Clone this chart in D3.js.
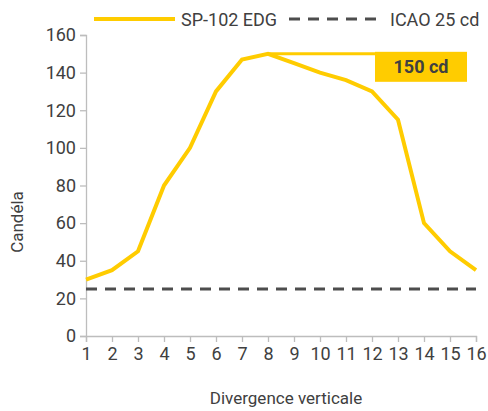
<!DOCTYPE html>
<html>
<head>
<meta charset="utf-8">
<script src="https://cdn.jsdelivr.net/npm/d3@7"></script>
<style>
  body { margin: 0; background: #fff; }
  svg { display: block; font-family: Roboto, sans-serif; }
</style>
</head>
<body>
<div id="chart"></div>
<script>
const divergence = [1, 2, 3, 4, 5, 6, 7, 8, 9, 10, 11, 12, 13, 14, 15, 16];
const candela = [30, 35, 45, 80, 100, 130, 147, 150, 145, 140, 136, 130, 115, 60, 45, 35];
const icaoLevel = 25;
const yTicks = [0, 20, 40, 60, 80, 100, 120, 140, 160];
const seriesNames = ['SP-102 EDG', 'ICAO 25 cd'];
const peakLabel = '150 cd';

const width = 488;
const height = 411;
const margin = { top: 35, right: 12, bottom: 75, left: 86 };
const yellow = '#ffcc00';
const dark = '#404040';
const dashGrey = '#4d4d4d';
const axisGrey = '#bdbdbd';

const svg = d3.select('#chart')
  .append('svg')
  .attr('width', width)
  .attr('height', height);

const x = d3.scaleLinear()
  .domain([1, 16])
  .range([margin.left, width - margin.right]);

const y = d3.scaleLinear()
  .domain([0, 160])
  .range([height - margin.bottom, margin.top]);

// axes
const xAxis = svg.append('g')
  .attr('transform', `translate(0, ${y(0)})`)
  .call(d3.axisBottom(x).tickValues(divergence).tickFormat(d3.format('d')).tickSize(6).tickPadding(5));

const yAxis = svg.append('g')
  .attr('transform', `translate(${margin.left}, 0)`)
  .call(d3.axisLeft(y).tickValues(yTicks).tickSize(6).tickPadding(4));

[xAxis, yAxis].forEach(axis => {
  axis.select('.domain').attr('stroke', axisGrey).attr('stroke-width', 1.3);
  axis.selectAll('.tick line').attr('stroke', axisGrey).attr('stroke-width', 1.3);
  axis.selectAll('.tick text')
    .attr('fill', dark)
    .style('font-family', 'Roboto, sans-serif')
    .style('font-size', '18px');
});

// ICAO reference
svg.append('line')
  .attr('x1', x(1))
  .attr('x2', x(16))
  .attr('y1', y(icaoLevel))
  .attr('y2', y(icaoLevel))
  .attr('stroke', dashGrey)
  .attr('stroke-width', 3)
  .attr('stroke-dasharray', '11,8');

// peak annotation
const peakIndex = d3.maxIndex(candela);
const boxLeft = 375;
const boxWidth = 92;
const boxHeight = 30;
svg.append('line')
  .attr('x1', x(divergence[peakIndex]))
  .attr('x2', boxLeft)
  .attr('y1', y(candela[peakIndex]))
  .attr('y2', y(candela[peakIndex]))
  .attr('stroke', yellow)
  .attr('stroke-width', 3);

svg.append('rect')
  .attr('x', boxLeft)
  .attr('y', y(candela[peakIndex]) - 2)
  .attr('width', boxWidth)
  .attr('height', boxHeight)
  .attr('fill', yellow);

svg.append('text')
  .attr('x', boxLeft + boxWidth / 2)
  .attr('y', y(candela[peakIndex]) - 2 + boxHeight / 2 + 6.5)
  .attr('text-anchor', 'middle')
  .attr('fill', dark)
  .style('font-size', '18px')
  .style('font-weight', 'bold')
  .text(peakLabel);

// main series
const line = d3.line()
  .x((d, i) => x(divergence[i]))
  .y(d => y(d));

svg.append('path')
  .datum(candela)
  .attr('fill', 'none')
  .attr('stroke', yellow)
  .attr('stroke-width', 4)
  .attr('stroke-linejoin', 'miter')
  .attr('d', line);

// legend
const legend = svg.append('g');
legend.append('line')
  .attr('x1', 94).attr('x2', 175)
  .attr('y1', 19).attr('y2', 19)
  .attr('stroke', yellow)
  .attr('stroke-width', 4);
legend.append('text')
  .attr('x', 181).attr('y', 25.5)
  .attr('fill', dark)
  .style('font-size', '18px')
  .text(seriesNames[0]);
legend.append('line')
  .attr('x1', 289).attr('x2', 376)
  .attr('y1', 19).attr('y2', 19)
  .attr('stroke', dashGrey)
  .attr('stroke-width', 3)
  .attr('stroke-dasharray', '11,8');
legend.append('text')
  .attr('x', 390).attr('y', 25.5)
  .attr('fill', dark)
  .style('font-size', '18px')
  .text(seriesNames[1]);

// axis titles
svg.append('text')
  .attr('transform', `translate(23, 222) rotate(-90)`)
  .attr('text-anchor', 'middle')
  .attr('fill', dark)
  .style('font-size', '17px')
  .text('Candéla');

svg.append('text')
  .attr('x', 286)
  .attr('y', 404)
  .attr('text-anchor', 'middle')
  .attr('fill', dark)
  .style('font-size', '17px')
  .text('Divergence verticale');
</script>
</body>
</html>
